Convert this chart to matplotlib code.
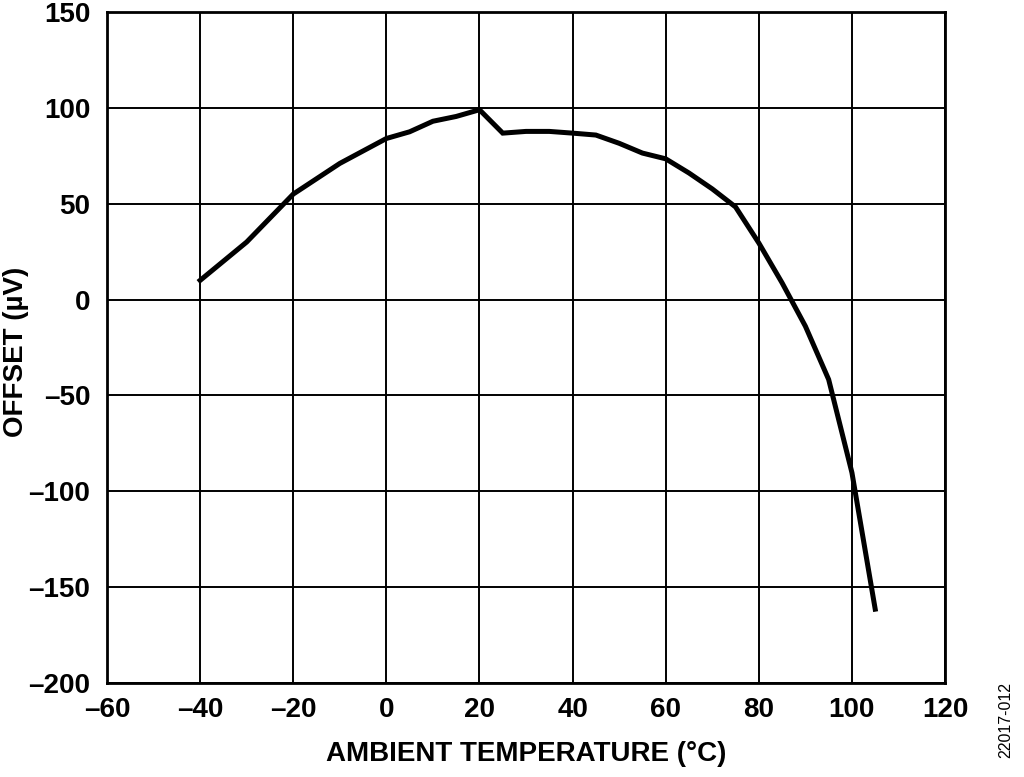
import matplotlib.pyplot as plt
import numpy as np

plt.rcParams['font.family'] = ['Liberation Sans', 'DejaVu Sans']
plt.rcParams['font.weight'] = 'bold'

temp_c = [-40, -30, -20, -10, 0, 5, 10, 15, 20, 25, 30, 35, 40, 45, 50, 55,
          60, 65, 70, 75, 80, 85, 90, 95, 100, 105]
offset_uv = [10, 30, 55, 71, 84, 87.5, 93, 95.5, 99, 86.8, 87.7, 87.7, 86.8,
             85.8, 81.5, 76.4, 73.4, 66, 57.7, 48.3, 29.5, 8.7, -13.9, -41.7,
             -90.3, -161.5]

xticks = np.arange(-60, 121, 20)
yticks = np.arange(-200, 151, 50)


def dash_fmt(v):
    return f"–{abs(v)}" if v < 0 else f"{v}"


fig = plt.figure(figsize=(10.24, 7.77), dpi=100)
ax = fig.add_axes([0.1045, 0.121, 0.8184, 0.8636])

ax.plot(temp_c, offset_uv, color='black', linewidth=3.6, zorder=3,
        solid_joinstyle='miter')

ax.set_xlim(-60, 120)
ax.set_ylim(-200, 150)
ax.set_xticks(xticks)
ax.set_yticks(yticks)
ax.set_xticklabels([dash_fmt(v) for v in xticks], fontsize=20, fontweight='bold')
ax.set_yticklabels([dash_fmt(v) for v in yticks], fontsize=20, fontweight='bold')
ax.tick_params(axis='x', length=0, pad=10)
ax.tick_params(axis='y', length=0, pad=12)
ax.grid(True, color='black', linewidth=1.4)
for s in ax.spines.values():
    s.set_linewidth(2)

ax.set_xlabel('AMBIENT TEMPERATURE (°C)', fontsize=20, fontweight='bold', labelpad=13)
ax.set_ylabel('OFFSET (µV)', fontsize=20, fontweight='bold', va='center')
ax.yaxis.set_label_coords(-0.108, 0.493)

fig.text(0.982, 0.0245, '22017-012', rotation=90, fontsize=11.5, fontweight='normal',
         ha='center', va='bottom')

fig.savefig('out.png', dpi=100)
